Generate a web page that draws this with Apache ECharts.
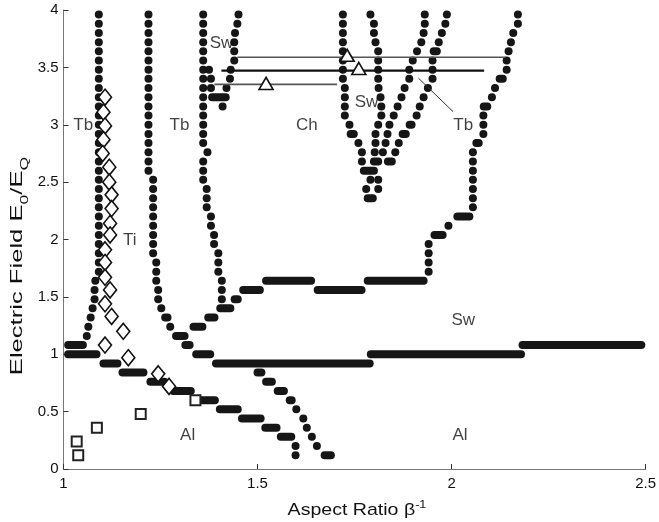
<!DOCTYPE html>
<html><head><meta charset="utf-8">
<script src="https://cdn.jsdelivr.net/npm/echarts@6/dist/echarts.min.js"></script>
<style>html,body{margin:0;padding:0;background:#fff}#c{width:659px;height:522px}</style>
</head><body><div id="c"></div>
<script>
// ---------- DATA (axis units: x = aspect ratio, y = E0/EQ) ----------
// horizontal runs of dots: [xStart, y, xEnd]
const runsTiAl = [[1.012,1.08,1.050],[1.012,1.00,1.085],[1.103,0.92,1.139],[1.152,0.84,1.206],[1.224,0.76,1.260],
  [1.283,0.68,1.328],[1.350,0.60,1.390],[1.403,0.52,1.449],[1.460,0.44,1.508],[1.520,0.36,1.549],[1.560,0.28,1.587]];
const runsAlSw = [[1.500,0.84,1.510],[1.522,0.76,1.537],[1.552,0.68,1.568],[1.583,0.60,1.588],[1.673,0.12,1.689]];
const runsTbSw = [[1.262,1.32,1.268],[1.290,1.16,1.312],[1.314,1.08,1.325],[1.342,1.00,1.378],[1.393,0.92,1.789],
  [1.792,1.00,2.179],[2.183,1.08,2.489]];
const runsChSw = [[1.335,1.24,1.358],[1.373,1.32,1.389],[1.404,1.40,1.430],[1.441,1.48,1.449],[1.463,1.56,1.506],
  [1.522,1.64,1.638],[1.655,1.56,1.768],[1.784,1.64,1.928],[1.956,2.04,1.977],[2.015,2.20,2.046],
  [2.064,2.84,2.070],[2.083,3.16,2.092],[2.124,3.40,2.132],[1.383,3.24,1.418]];
const runsV = [[1.740,2.92,1.748],[1.800,2.68,1.811],[1.954,3.64,1.962],[1.892,3.00,1.897],[1.874,2.92,1.882],
  [1.836,2.68,1.846],[1.774,2.60,1.800],[1.784,2.36,1.797]];

// single dots: [x, y]
const dotsTbLeft = [[1.091,3.96],[1.091,3.88],[1.091,3.80],[1.091,3.72],[1.091,3.64],[1.091,3.56],[1.091,3.48],[1.091,3.40],
  [1.091,3.32],[1.091,3.24],[1.091,3.16],[1.091,3.08],[1.091,3.00],[1.091,2.92],[1.091,2.84],[1.091,2.76],[1.091,2.68],
  [1.091,2.60],[1.091,2.52],[1.091,2.44],[1.091,2.36],[1.091,2.28],[1.091,2.20],[1.091,2.12],[1.091,2.04],[1.091,1.96],
  [1.091,1.88],[1.091,1.80],[1.091,1.72],[1.082,1.64],[1.080,1.56],[1.080,1.48],[1.075,1.40],[1.070,1.32],[1.064,1.24],[1.060,1.16]];
const dotsTbMid = [[1.219,3.96],[1.219,3.88],[1.219,3.80],[1.219,3.72],[1.219,3.64],[1.219,3.56],[1.219,3.48],[1.219,3.40],
  [1.219,3.32],[1.219,3.24],[1.219,3.16],[1.219,3.08],[1.219,3.00],[1.219,2.92],[1.219,2.84],[1.219,2.76],[1.219,2.68],[1.219,2.60],
  [1.231,2.52],[1.231,2.44],[1.231,2.36],[1.231,2.28],[1.231,2.20],[1.231,2.12],[1.231,2.04],[1.231,1.96],[1.231,1.88],
  [1.239,1.80],[1.239,1.72],[1.239,1.64],[1.244,1.56],[1.244,1.48],[1.252,1.40],[1.275,1.24]];
const dotsTbRight = [[1.360,3.96],[1.360,3.88],[1.360,3.80],[1.360,3.72],[1.360,3.64],[1.360,3.56],[1.360,3.48],[1.360,3.40],
  [1.360,3.32],[1.360,3.24],[1.360,3.16],[1.360,3.08],[1.360,3.00],[1.360,2.92],[1.360,2.84],[1.371,2.76],[1.360,2.68],
  [1.360,2.60],[1.360,2.52],[1.369,2.44],[1.369,2.36],[1.369,2.28],[1.380,2.20],[1.380,2.12],[1.388,2.04],[1.388,1.96],
  [1.399,1.88],[1.399,1.80],[1.399,1.72],[1.408,1.64],[1.408,1.56],[1.408,1.48],[1.375,3.48],[1.380,3.40],[1.380,3.32]];
const dotsSwPocket = [[1.451,3.96],[1.448,3.88],[1.442,3.80],[1.440,3.72],[1.440,3.64],[1.440,3.56],[1.431,3.48],[1.429,3.40],
  [1.420,3.32],[1.410,3.16]];
const dotsChSw = [[1.941,1.72],[1.941,1.80],[1.941,1.88],[1.941,1.96],[1.992,2.12],[2.055,2.28],[2.055,2.36],[2.055,2.44],
  [2.055,2.52],[2.055,2.60],[2.055,2.68],[2.055,2.76],[2.082,2.92],[2.082,3.00],[2.082,3.08],[2.104,3.24],[2.112,3.32],
  [2.142,3.48],[2.142,3.56],[2.147,3.64],[2.153,3.72],[2.159,3.80],[2.171,3.88],[2.171,3.96]];
const dotsAl = [[1.598,0.20],[1.598,0.12],[1.600,0.52],[1.618,0.44],[1.627,0.36],[1.640,0.28],[1.653,0.20]];
const dotsV = [[1.720,3.96],[1.720,3.88],[1.720,3.80],[1.720,3.72],[1.720,3.64],[1.720,3.56],[1.720,3.48],[1.720,3.40],
  [1.725,3.32],[1.725,3.24],[1.725,3.16],[1.725,3.08],[1.737,3.00],[1.760,2.84],[1.769,2.76],[1.769,2.68],
  [1.791,3.96],[1.800,3.88],[1.800,3.80],[1.804,3.72],[1.811,3.64],[1.811,3.56],[1.811,3.48],[1.811,3.40],[1.812,3.32],
  [1.817,3.24],[1.819,3.16],[1.819,3.08],[1.811,3.00],[1.804,2.92],[1.804,2.84],[1.802,2.76],
  [1.931,3.96],[1.931,3.88],[1.928,3.80],[1.922,3.72],[1.911,3.64],[1.900,3.56],[1.891,3.48],[1.891,3.40],[1.879,3.32],
  [1.871,3.24],[1.861,3.16],[1.851,3.08],[1.840,3.00],[1.835,2.92],[1.830,2.84],[1.823,2.76],
  [1.988,3.96],[1.984,3.88],[1.975,3.80],[1.967,3.72],[1.951,3.56],[1.951,3.48],[1.951,3.40],[1.939,3.32],[1.928,3.24],
  [1.918,3.16],[1.910,3.08],[1.864,2.84],[1.855,2.76],[1.791,2.52],[1.811,2.52],[1.780,2.44],[1.811,2.44]];

// measured points
const tiX = [1.107,1.103,1.107,1.103,1.101,1.118,1.118,1.124,1.124,1.120,1.120,1.107,1.107,1.107,1.120,1.107,1.124,1.154,1.107,1.167,1.244,1.272];
const tiY = [3.24,3.11,2.99,2.87,2.75,2.63,2.50,2.39,2.27,2.14,2.04,1.91,1.80,1.67,1.56,1.44,1.33,1.20,1.08,0.97,0.83,0.72];
const alX = [1.034,1.038,1.086,1.199,1.340];
const alY = [0.24,0.12,0.36,0.48,0.60];
const triX = [1.522,1.731,1.761];
const triY = [3.36,3.605,3.49];
// horizontal bars through triangles: [xStart, y, xEnd]
const barsGrey = [[1.389,3.352,1.705],[1.448,3.588,2.140]];
const barsBlack = [[1.407,3.471,2.084]];

const regionNames = ['Tb','Tb','Ch','Sw','Sw','Tb','Ti','Al','Al','Sw'];
const regionX = [1.051,1.299,1.627,1.407,1.781,2.030,1.171,1.320,2.022,2.030];
const regionY = [2.998,2.998,2.998,3.712,3.198,2.998,1.996,0.296,0.296,1.298];
const arrowFrom = [2.004,3.114];
const arrowTo = [1.915,3.405];

// ---------- CHART ----------
const chart = echarts.init(document.getElementById('c'), null, {renderer:'canvas'});
const DOT = '#161616';
function runSeries(data, color, width, cap, z){
  return {type:'custom', coordinateSystem:'cartesian2d', data:data, z:z, silent:true,
    encode:{x:[0,2], y:1},
    renderItem:function(params, api){
      const p0 = api.coord([api.value(0), api.value(1)]);
      const p1 = api.coord([api.value(2), api.value(1)]);
      return {type:'line', shape:{x1:p0[0],y1:p0[1],x2:p1[0],y2:p1[1]},
        style:{stroke:color, lineWidth:width, lineCap:cap}};
    }};
}
function dotSeries(data){
  return {type:'scatter', data:data, symbol:'circle', symbolSize:8, z:2, silent:true,
    itemStyle:{color:DOT, opacity:1}};
}
const pair = (xs, ys) => xs.map((x,i)=>[x, ys[i]]);
const FONT = 'Liberation Sans';

chart.setOption({
  animation:false,
  backgroundColor:'#fff',
  grid:{left:63.5, top:10, width:585, height:459},
  xAxis:{type:'value', min:1, max:2.5, interval:0.5,
    axisLine:{lineStyle:{color:'#777', width:1}},
    axisTick:{inside:true, length:5, lineStyle:{color:'#333'}},
    axisLabel:{color:'#111', fontSize:15, fontFamily:FONT, margin:7},
    splitLine:{show:false}},
  yAxis:{type:'value', min:0, max:4, interval:0.5,
    axisLine:{show:true, lineStyle:{color:'#777', width:1}},
    axisTick:{show:true, inside:true, length:5, lineStyle:{color:'#333'}},
    axisLabel:{color:'#111', fontSize:15, fontFamily:FONT, margin:5},
    splitLine:{show:false}},
  graphic:[
    {type:'text', x:20, y:266, rotation:Math.PI/2, scaleX:1.6, silent:true,
      style:{text:'{a|Electric Field E}{s|0}{a|/E}{s|Q}', align:'center', verticalAlign:'middle', fill:'#111',
        rich:{a:{fontSize:16, fontFamily:FONT, fill:'#111', lineHeight:20, verticalAlign:'top'},
              s:{fontSize:11, fontFamily:FONT, fill:'#111', lineHeight:11, verticalAlign:'bottom'}}}},
    {type:'text', x:357, y:509, scaleX:1.15, silent:true,
      style:{text:'{a|Aspect Ratio β}{p|-1}', align:'center', verticalAlign:'middle', fill:'#111',
        rich:{a:{fontSize:17, fontFamily:FONT, fill:'#111', lineHeight:20, verticalAlign:'bottom'},
              p:{fontSize:11, fontFamily:FONT, fill:'#111', lineHeight:11, verticalAlign:'top'}}}}
  ],
  series:[
    runSeries(runsTiAl, DOT, 8, 'round', 2),
    runSeries(runsAlSw, DOT, 8, 'round', 2),
    runSeries(runsTbSw, DOT, 8, 'round', 2),
    runSeries(runsChSw, DOT, 8, 'round', 2),
    runSeries(runsV, DOT, 8, 'round', 2),
    dotSeries(dotsTbLeft), dotSeries(dotsTbMid), dotSeries(dotsTbRight), dotSeries(dotsSwPocket),
    dotSeries(dotsChSw), dotSeries(dotsAl), dotSeries(dotsV),
    runSeries(barsGrey, '#555', 1.6, 'butt', 3),
    runSeries(barsBlack, '#111', 2.2, 'butt', 3),
    {type:'scatter', data:pair(tiX, tiY), symbol:'diamond', symbolSize:[13,16], z:4, silent:true,
      itemStyle:{color:'#fff', borderColor:'#111', borderWidth:1.6, opacity:1}},
    {type:'scatter', data:pair(alX, alY), symbol:'rect', symbolSize:10, z:4, silent:true,
      itemStyle:{color:'#fff', borderColor:'#222', borderWidth:2, opacity:1}},
    {type:'scatter', data:pair(triX, triY), symbol:'triangle', symbolSize:[14,12], z:4, silent:true,
      itemStyle:{color:'#fff', borderColor:'#111', borderWidth:1.6, opacity:1}},
    {type:'scatter', z:5, silent:true, symbolSize:0,
      data:regionNames.map((n,i)=>({name:n, value:[regionX[i], regionY[i]]})),
      label:{show:true, position:'inside', formatter:'{b}', color:'#111', fontSize:17, fontFamily:FONT},
      markLine:{silent:true, symbol:['none','arrow'], symbolSize:[0,8], animation:false,
        lineStyle:{color:'#333', width:1, type:'solid'}, label:{show:false},
        data:[[{coord:arrowFrom},{coord:arrowTo}]]}}
  ]
});
</script></body></html>
